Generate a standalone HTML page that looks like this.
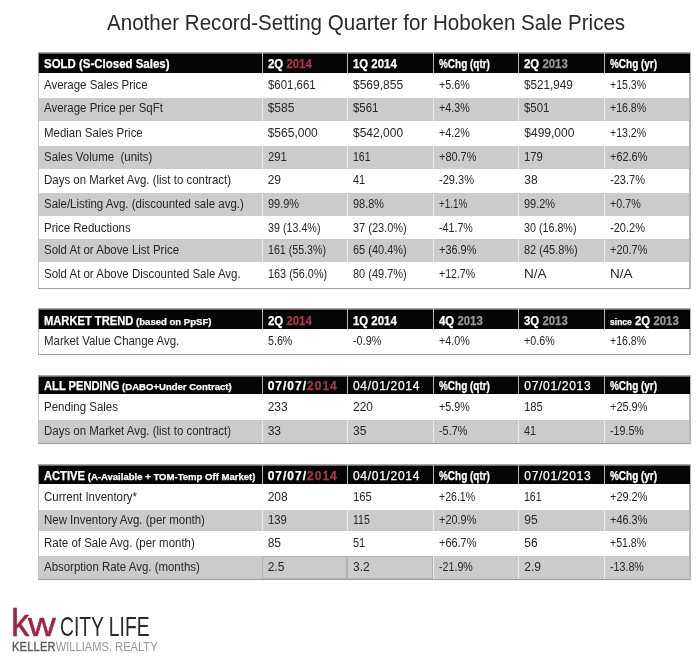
<!DOCTYPE html>
<html><head><meta charset="utf-8"><title>Hoboken Sale Prices</title>
<style>
*{margin:0;padding:0;box-sizing:border-box}
html,body{width:700px;height:660px;background:#fff;overflow:hidden}
body{position:relative;font-family:"Liberation Sans",Arial,sans-serif;color:#262626}
.title{position:absolute;left:107px;top:22.72px;line-height:0;white-space:nowrap;font-size:21.6px;color:#2a2a2a;transform-origin:0 0;transform:scaleX(0.953)}
.frame{position:absolute;left:38px;width:653px;border-left:1px solid #c4c4c4;border-right:2px solid #b5b5b5;border-bottom:1px solid #9d9d9d}
.hdr{position:absolute;left:38px;width:652px;background:linear-gradient(#a8a8a8 0,#a8a8a8 1px,#6a6a6a 1px,#6a6a6a 2px,#050505 2px);border-left:1px solid #9a9a9a}
.hsep{position:absolute;width:1px;background:#b8b8b8}
.grow{position:absolute;left:39px;width:650px;background:#cbcbcb}
.gsep{position:absolute;width:1px;background:#ececec}
.box{position:absolute;border:1px solid #b2b2b2}
.t,.ht{position:absolute;white-space:nowrap;height:0;line-height:0;font-size:12px}
.t>*, .ht>*{}
.t{font-size:12px;transform-origin:0 0}
.tl{transform:scaleX(0.955)}
.tn{transform:scaleX(1)}
i{font-style:normal}
.a{letter-spacing:-1.2px}
.b{display:inline-block;transform-origin:0 0;transform:scaleX(0.72);margin-right:-3px}
.c{letter-spacing:-1px}
.d{letter-spacing:-0.7px}
.ht{color:#fff;-webkit-text-stroke-width:0.25px}
.hm{font-size:12px;display:inline-block;transform-origin:0 0;transform:scaleX(0.93)}
.hs{font-size:9.6px;display:inline-block;transform-origin:0 0;transform:scaleX(1.07)}
.hc{font-size:12px;display:inline-block}
.hn{font-weight:normal}
.hp{transform-origin:0 0;transform:scaleX(0.83)}
.hd{letter-spacing:1px}
.hq{transform-origin:0 0;transform:scaleX(0.95)}
.hdn{letter-spacing:0.7px}
.r{color:#a8384f}
.g{color:#9a9a9a}
.sm{font-size:9px}
.logo{position:absolute;line-height:0;white-space:nowrap;transform-origin:0 0}
.kw{font-size:38.5px;color:#a22443;-webkit-text-stroke:0.5px #a22443}
.kk{display:inline-block;transform-origin:0 0;transform:scaleX(0.95);letter-spacing:-2.4px}
.ww{display:inline-block;transform-origin:0 13.3px;transform:scale(1.0,0.85)}
.city{font-size:27.5px;color:#2a2a2a;transform:scaleX(0.70)}
.kwr{font-size:12.5px;color:#949494;transform:scaleX(0.89)}
.kel{color:#5e5e5e;-webkit-text-stroke:0.4px #5e5e5e;letter-spacing:0.2px}
</style></head>
<body>
<div class="title">Another Record-Setting Quarter for Hoboken Sale Prices</div>
<div class="frame" style="top:52px;height:237px"></div>
<div class="hdr" style="top:52px;height:21px"></div>
<div class="hsep" style="left:262px;top:52px;height:21px"></div>
<div class="hsep" style="left:347px;top:52px;height:21px"></div>
<div class="hsep" style="left:433px;top:52px;height:21px"></div>
<div class="hsep" style="left:518px;top:52px;height:21px"></div>
<div class="hsep" style="left:604px;top:52px;height:21px"></div>
<div class="grow" style="top:98px;height:23px"></div>
<div class="gsep" style="left:262px;top:98px;height:23px"></div>
<div class="gsep" style="left:347px;top:98px;height:23px"></div>
<div class="gsep" style="left:433px;top:98px;height:23px"></div>
<div class="gsep" style="left:518px;top:98px;height:23px"></div>
<div class="gsep" style="left:604px;top:98px;height:23px"></div>
<div class="grow" style="top:146px;height:23px"></div>
<div class="gsep" style="left:262px;top:146px;height:23px"></div>
<div class="gsep" style="left:347px;top:146px;height:23px"></div>
<div class="gsep" style="left:433px;top:146px;height:23px"></div>
<div class="gsep" style="left:518px;top:146px;height:23px"></div>
<div class="gsep" style="left:604px;top:146px;height:23px"></div>
<div class="grow" style="top:193px;height:23px"></div>
<div class="gsep" style="left:262px;top:193px;height:23px"></div>
<div class="gsep" style="left:347px;top:193px;height:23px"></div>
<div class="gsep" style="left:433px;top:193px;height:23px"></div>
<div class="gsep" style="left:518px;top:193px;height:23px"></div>
<div class="gsep" style="left:604px;top:193px;height:23px"></div>
<div class="grow" style="top:239px;height:23px"></div>
<div class="gsep" style="left:262px;top:239px;height:23px"></div>
<div class="gsep" style="left:347px;top:239px;height:23px"></div>
<div class="gsep" style="left:433px;top:239px;height:23px"></div>
<div class="gsep" style="left:518px;top:239px;height:23px"></div>
<div class="gsep" style="left:604px;top:239px;height:23px"></div>
<div class="ht" style="left:44px;top:64.24px"><b class="hm" style="transform:scaleX(0.955)">SOLD (S-Closed Sales)</b></div>
<div class="ht" style="left:267.7px;top:64.24px"><b class="hc hq">2Q <span class="r">2014</span></b></div>
<div class="ht" style="left:353px;top:64.24px"><b class="hc hq">1Q 2014</b></div>
<div class="ht" style="left:438.8px;top:64.24px"><b class="hc hp">%Chg (qtr)</b></div>
<div class="ht" style="left:524.3px;top:64.24px"><b class="hc hq">2Q <span class="g">2013</span></b></div>
<div class="ht" style="left:610px;top:64.24px"><b class="hc hp">%Chg (yr)</b></div>
<div class="t" style="left:44px;top:84.54px;transform:scaleX(0.955)">Average Sales Price</div>
<div class="t" style="left:267.7px;top:84.54px;transform:scaleX(0.952)">$601,661</div>
<div class="t" style="left:353px;top:84.54px;transform:scaleX(1.000)">$569,855</div>
<div class="t" style="left:438.8px;top:84.54px;transform:scaleX(0.892)">+5.6%</div>
<div class="t" style="left:524.3px;top:84.54px;transform:scaleX(0.976)">$521,949</div>
<div class="t" style="left:610px;top:84.54px;transform:scaleX(0.881)">+15.3%</div>
<div class="t" style="left:44px;top:108.34px;transform:scaleX(0.955)">Average Price per SqFt</div>
<div class="t" style="left:267.7px;top:108.34px;transform:scaleX(1.000)">$585</div>
<div class="t" style="left:353px;top:108.34px;transform:scaleX(0.955)">$561</div>
<div class="t" style="left:438.8px;top:108.34px;transform:scaleX(0.892)">+4.3%</div>
<div class="t" style="left:524.3px;top:108.34px;transform:scaleX(0.955)">$501</div>
<div class="t" style="left:610px;top:108.34px;transform:scaleX(0.881)">+16.8%</div>
<div class="t" style="left:44px;top:132.54px;transform:scaleX(0.955)">Median Sales Price</div>
<div class="t" style="left:267.7px;top:132.54px;transform:scaleX(1.000)">$565,000</div>
<div class="t" style="left:353px;top:132.54px;transform:scaleX(1.000)">$542,000</div>
<div class="t" style="left:438.8px;top:132.54px;transform:scaleX(0.892)">+4.2%</div>
<div class="t" style="left:524.3px;top:132.54px;transform:scaleX(1.000)">$499,000</div>
<div class="t" style="left:610px;top:132.54px;transform:scaleX(0.881)">+13.2%</div>
<div class="t" style="left:44px;top:156.64px;transform:scaleX(0.955)">Sales Volume&nbsp; (units)</div>
<div class="t" style="left:267.7px;top:156.64px;transform:scaleX(0.940)">291</div>
<div class="t" style="left:353px;top:156.64px;transform:scaleX(0.880)">161</div>
<div class="t" style="left:438.8px;top:156.64px;transform:scaleX(0.910)">+80.7%</div>
<div class="t" style="left:524.3px;top:156.64px;transform:scaleX(0.940)">179</div>
<div class="t" style="left:610px;top:156.64px;transform:scaleX(0.910)">+62.6%</div>
<div class="t" style="left:44px;top:180.34px;transform:scaleX(0.955)">Days on Market Avg. (list to contract)</div>
<div class="t" style="left:267.7px;top:180.34px;transform:scaleX(1.000)">29</div>
<div class="t" style="left:353px;top:180.34px;transform:scaleX(0.910)">41</div>
<div class="t" style="left:438.8px;top:180.34px;transform:scaleX(0.921)">-29.3%</div>
<div class="t" style="left:524.3px;top:180.34px;transform:scaleX(1.000)">38</div>
<div class="t" style="left:610px;top:180.34px;transform:scaleX(0.921)">-23.7%</div>
<div class="t" style="left:44px;top:204.34px;transform:scaleX(0.955)">Sale/Listing Avg. (discounted sale avg.)</div>
<div class="t" style="left:267.7px;top:204.34px;transform:scaleX(0.912)">99.9%</div>
<div class="t" style="left:353px;top:204.34px;transform:scaleX(0.912)">98.8%</div>
<div class="t" style="left:438.8px;top:204.34px;transform:scaleX(0.822)">+1.1%</div>
<div class="t" style="left:524.3px;top:204.34px;transform:scaleX(0.912)">99.2%</div>
<div class="t" style="left:610px;top:204.34px;transform:scaleX(0.892)">+0.7%</div>
<div class="t" style="left:44px;top:227.64px;transform:scaleX(0.955)">Price Reductions</div>
<div class="t" style="left:267.7px;top:227.64px;transform:scaleX(0.894)">39 (13.4%)</div>
<div class="t" style="left:353px;top:227.64px;transform:scaleX(0.915)">37 (23.0%)</div>
<div class="t" style="left:438.8px;top:227.64px;transform:scaleX(0.890)">-41.7%</div>
<div class="t" style="left:524.3px;top:227.64px;transform:scaleX(0.894)">30 (16.8%)</div>
<div class="t" style="left:610px;top:227.64px;transform:scaleX(0.921)">-20.2%</div>
<div class="t" style="left:44px;top:250.34px;transform:scaleX(0.955)">Sold At or Above List Price</div>
<div class="t" style="left:267.7px;top:250.34px;transform:scaleX(0.887)">161 (55.3%)</div>
<div class="t" style="left:353px;top:250.34px;transform:scaleX(0.915)">65 (40.4%)</div>
<div class="t" style="left:438.8px;top:250.34px;transform:scaleX(0.910)">+36.9%</div>
<div class="t" style="left:524.3px;top:250.34px;transform:scaleX(0.915)">82 (45.8%)</div>
<div class="t" style="left:610px;top:250.34px;transform:scaleX(0.910)">+20.7%</div>
<div class="t" style="left:44px;top:274.04px;transform:scaleX(0.955)">Sold At or Above Discounted Sale Avg.</div>
<div class="t" style="left:267.7px;top:274.04px;transform:scaleX(0.905)">163 (56.0%)</div>
<div class="t" style="left:353px;top:274.04px;transform:scaleX(0.915)">80 (49.7%)</div>
<div class="t" style="left:438.8px;top:274.04px;transform:scaleX(0.881)">+12.7%</div>
<div class="t" style="left:524.3px;top:274.04px;transform:scaleX(1.130)">N/A</div>
<div class="t" style="left:610px;top:274.04px;transform:scaleX(1.130)">N/A</div>
<div class="frame" style="top:308px;height:47px"></div>
<div class="hdr" style="top:308px;height:21px"></div>
<div class="hsep" style="left:262px;top:308px;height:21px"></div>
<div class="hsep" style="left:347px;top:308px;height:21px"></div>
<div class="hsep" style="left:433px;top:308px;height:21px"></div>
<div class="hsep" style="left:518px;top:308px;height:21px"></div>
<div class="hsep" style="left:604px;top:308px;height:21px"></div>
<div class="ht" style="left:44px;top:320.84px"><b class="hm">MARKET TREND <span class="hs">(based on PpSF)</span></b></div>
<div class="ht" style="left:267.7px;top:320.84px"><b class="hc hq">2Q <span class="r">2014</span></b></div>
<div class="ht" style="left:353px;top:320.84px"><b class="hc hq">1Q 2014</b></div>
<div class="ht" style="left:438.8px;top:320.84px"><b class="hc hq">4Q <span class="g">2013</span></b></div>
<div class="ht" style="left:524.3px;top:320.84px"><b class="hc hq">3Q <span class="g">2013</span></b></div>
<div class="ht" style="left:610px;top:320.84px"><b class="hc hq"><span class="sm">since</span> 2Q <span class="g">2013</span></b></div>
<div class="t" style="left:44px;top:341.34px;transform:scaleX(0.955)">Market Value Change Avg.</div>
<div class="t" style="left:267.7px;top:341.34px;transform:scaleX(0.890)">5.6%</div>
<div class="t" style="left:353px;top:341.34px;transform:scaleX(0.904)">-0.9%</div>
<div class="t" style="left:438.8px;top:341.34px;transform:scaleX(0.892)">+4.0%</div>
<div class="t" style="left:524.3px;top:341.34px;transform:scaleX(0.892)">+0.6%</div>
<div class="t" style="left:610px;top:341.34px;transform:scaleX(0.881)">+16.8%</div>
<div class="frame" style="top:375px;height:69px"></div>
<div class="hdr" style="top:375px;height:19px"></div>
<div class="hsep" style="left:262px;top:375px;height:19px"></div>
<div class="hsep" style="left:347px;top:375px;height:19px"></div>
<div class="hsep" style="left:433px;top:375px;height:19px"></div>
<div class="hsep" style="left:518px;top:375px;height:19px"></div>
<div class="hsep" style="left:604px;top:375px;height:19px"></div>
<div class="grow" style="top:420px;height:23px"></div>
<div class="gsep" style="left:262px;top:420px;height:23px"></div>
<div class="gsep" style="left:347px;top:420px;height:23px"></div>
<div class="gsep" style="left:433px;top:420px;height:23px"></div>
<div class="gsep" style="left:518px;top:420px;height:23px"></div>
<div class="gsep" style="left:604px;top:420px;height:23px"></div>
<div class="ht" style="left:44px;top:385.84px"><b class="hm">ALL PENDING <span class="hs">(DABO+Under Contract)</span></b></div>
<div class="ht" style="left:267.7px;top:385.84px"><b class="hc hd">07/07/<span class="r">2014</span></b></div>
<div class="ht" style="left:353px;top:385.84px"><span class="hc hn hdn">04/01/2014</span></div>
<div class="ht" style="left:438.8px;top:385.84px"><b class="hc hp">%Chg (qtr)</b></div>
<div class="ht" style="left:524.3px;top:385.84px"><span class="hc hn hdn">07/01/2013</span></div>
<div class="ht" style="left:610px;top:385.84px"><b class="hc hp">%Chg (yr)</b></div>
<div class="t" style="left:44px;top:407.04px;transform:scaleX(0.955)">Pending Sales</div>
<div class="t" style="left:267.7px;top:407.04px;transform:scaleX(1.000)">233</div>
<div class="t" style="left:353px;top:407.04px;transform:scaleX(1.000)">220</div>
<div class="t" style="left:438.8px;top:407.04px;transform:scaleX(0.892)">+5.9%</div>
<div class="t" style="left:524.3px;top:407.04px;transform:scaleX(0.940)">185</div>
<div class="t" style="left:610px;top:407.04px;transform:scaleX(0.910)">+25.9%</div>
<div class="t" style="left:44px;top:430.64px;transform:scaleX(0.955)">Days on Market Avg. (list to contract)</div>
<div class="t" style="left:267.7px;top:430.64px;transform:scaleX(1.000)">33</div>
<div class="t" style="left:353px;top:430.64px;transform:scaleX(1.000)">35</div>
<div class="t" style="left:438.8px;top:430.64px;transform:scaleX(0.904)">-5.7%</div>
<div class="t" style="left:524.3px;top:430.64px;transform:scaleX(0.910)">41</div>
<div class="t" style="left:610px;top:430.64px;transform:scaleX(0.890)">-19.5%</div>
<div class="frame" style="top:464px;height:116px"></div>
<div class="hdr" style="top:464px;height:20px"></div>
<div class="hsep" style="left:262px;top:464px;height:20px"></div>
<div class="hsep" style="left:347px;top:464px;height:20px"></div>
<div class="hsep" style="left:433px;top:464px;height:20px"></div>
<div class="hsep" style="left:518px;top:464px;height:20px"></div>
<div class="hsep" style="left:604px;top:464px;height:20px"></div>
<div class="grow" style="top:510px;height:21px"></div>
<div class="gsep" style="left:262px;top:510px;height:21px"></div>
<div class="gsep" style="left:347px;top:510px;height:21px"></div>
<div class="gsep" style="left:433px;top:510px;height:21px"></div>
<div class="gsep" style="left:518px;top:510px;height:21px"></div>
<div class="gsep" style="left:604px;top:510px;height:21px"></div>
<div class="grow" style="top:556px;height:23px"></div>
<div class="gsep" style="left:262px;top:556px;height:23px"></div>
<div class="gsep" style="left:347px;top:556px;height:23px"></div>
<div class="gsep" style="left:433px;top:556px;height:23px"></div>
<div class="gsep" style="left:518px;top:556px;height:23px"></div>
<div class="gsep" style="left:604px;top:556px;height:23px"></div>
<div class="ht" style="left:44px;top:476.24px"><b class="hm">ACTIVE <span class="hs">(A-Available + TOM-Temp Off Market)</span></b></div>
<div class="ht" style="left:267.7px;top:476.24px"><b class="hc hd">07/07/<span class="r">2014</span></b></div>
<div class="ht" style="left:353px;top:476.24px"><span class="hc hn hdn">04/01/2014</span></div>
<div class="ht" style="left:438.8px;top:476.24px"><b class="hc hp">%Chg (qtr)</b></div>
<div class="ht" style="left:524.3px;top:476.24px"><span class="hc hn hdn">07/01/2013</span></div>
<div class="ht" style="left:610px;top:476.24px"><b class="hc hp">%Chg (yr)</b></div>
<div class="t" style="left:44px;top:497.34px;transform:scaleX(0.955)">Current Inventory*</div>
<div class="t" style="left:267.7px;top:497.34px;transform:scaleX(1.000)">208</div>
<div class="t" style="left:353px;top:497.34px;transform:scaleX(0.940)">165</div>
<div class="t" style="left:438.8px;top:497.34px;transform:scaleX(0.881)">+26.1%</div>
<div class="t" style="left:524.3px;top:497.34px;transform:scaleX(0.880)">161</div>
<div class="t" style="left:610px;top:497.34px;transform:scaleX(0.910)">+29.2%</div>
<div class="t" style="left:44px;top:520.24px;transform:scaleX(0.955)">New Inventory Avg. (per month)</div>
<div class="t" style="left:267.7px;top:520.24px;transform:scaleX(0.940)">139</div>
<div class="t" style="left:353px;top:520.24px;transform:scaleX(0.875)">115</div>
<div class="t" style="left:438.8px;top:520.24px;transform:scaleX(0.910)">+20.9%</div>
<div class="t" style="left:524.3px;top:520.24px;transform:scaleX(1.000)">95</div>
<div class="t" style="left:610px;top:520.24px;transform:scaleX(0.910)">+46.3%</div>
<div class="t" style="left:44px;top:542.94px;transform:scaleX(0.955)">Rate of Sale Avg. (per month)</div>
<div class="t" style="left:267.7px;top:542.94px;transform:scaleX(1.000)">85</div>
<div class="t" style="left:353px;top:542.94px;transform:scaleX(0.910)">51</div>
<div class="t" style="left:438.8px;top:542.94px;transform:scaleX(0.910)">+66.7%</div>
<div class="t" style="left:524.3px;top:542.94px;transform:scaleX(1.000)">56</div>
<div class="t" style="left:610px;top:542.94px;transform:scaleX(0.881)">+51.8%</div>
<div class="t" style="left:44px;top:566.64px;transform:scaleX(0.955)">Absorption Rate Avg. (months)</div>
<div class="t" style="left:267.7px;top:566.64px;transform:scaleX(1.000)">2.5</div>
<div class="t" style="left:353px;top:566.64px;transform:scaleX(1.000)">3.2</div>
<div class="t" style="left:438.8px;top:566.64px;transform:scaleX(0.890)">-21.9%</div>
<div class="t" style="left:524.3px;top:566.64px;transform:scaleX(1.000)">2.9</div>
<div class="t" style="left:610px;top:566.64px;transform:scaleX(0.890)">-13.8%</div>
<div class="box" style="left:262px;top:556px;width:85px;height:23px"></div>
<div class="box" style="left:347px;top:556px;width:86px;height:23px"></div>
<div class="logo kw" style="left:11.2px;top:622.96px"><span class="kk">k</span><span class="ww">w</span></div>
<div class="logo city" style="left:59.5px;top:626.87px">CITY LIFE</div>
<div class="logo kwr" style="left:12.2px;top:646.67px"><span class="kel">KELLER</span>WILLIAMS. REALTY</div>
</body></html>
